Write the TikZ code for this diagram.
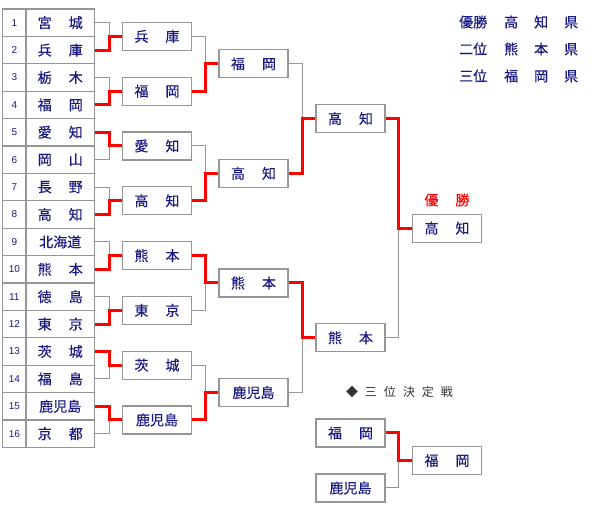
\documentclass[tikz,border=0pt]{standalone}
\usepackage{fontspec}
\setmainfont{Liberation Serif}
\newfontfamily\jpfont[FakeBold=0.3]{Noto Sans CJK JP}
\newfontfamily\jplight{Noto Sans CJK JP}
\newfontfamily\numfont{Liberation Sans}
\definecolor{navy}{RGB}{25,25,130}
\definecolor{lgray}{RGB}{150,150,150}
\definecolor{wred}{RGB}{255,0,0}
\definecolor{dgray}{RGB}{50,50,50}
\newcommand\twoch[2]{#1\hspace{17pt}#2}
\tikzset{
  cell/.style={draw=lgray, line width=1.2pt, minimum height=27.4pt, inner sep=0pt, text=navy},
  numcell/.style={cell, minimum width=23.3pt, font=\numfont\fontsize{10}{10}\selectfont},
  namecell/.style={cell, minimum width=68.5pt, font=\jpfont\fontsize{14}{14}\selectfont},
  team/.style={draw=lgray, line width=1.2pt, minimum width=69pt, minimum height=28pt, inner sep=0pt, text=navy, font=\jpfont\fontsize{14}{14}\selectfont},
  lose/.style={draw=lgray, line width=1pt},
  win/.style={draw=wred, line width=3pt},
  legend/.style={anchor=west, inner sep=0pt, text=navy, font=\jpfont\fontsize{14}{14}\selectfont},
}
\begin{document}
\begin{tikzpicture}[x=1pt,y=-1pt]
\useasboundingbox (0,0) rectangle (600,510);
% table
\foreach \i/\nm in {1/{\twoch{宮}{城}},2/{\twoch{兵}{庫}},3/{\twoch{栃}{木}},4/{\twoch{福}{岡}},
  5/{\twoch{愛}{知}},6/{\twoch{岡}{山}},7/{\twoch{長}{野}},8/{\twoch{高}{知}},
  9/{北海道},10/{\twoch{熊}{本}},11/{\twoch{徳}{島}},12/{\twoch{東}{京}},
  13/{\twoch{茨}{城}},14/{\twoch{福}{島}},15/{鹿児島},16/{\twoch{京}{都}}}{
  \pgfmathsetmacro\yy{9+(\i-0.5)*27.4}
  \node[numcell] (n\i) at (14.35,\yy) {\i};
  \node[namecell] (t\i) at (60.25,\yy) {\nm};
}
% round 1
\node[team] (a1) at (157,36.4) {\twoch{兵}{庫}};
\node[team] (a2) at (157,91.2) {\twoch{福}{岡}};
\node[team] (a3) at (157,146) {\twoch{愛}{知}};
\node[team] (a4) at (157,200.8) {\twoch{高}{知}};
\node[team] (a5) at (157,255.6) {\twoch{熊}{本}};
\node[team] (a6) at (157,310.4) {\twoch{東}{京}};
\node[team] (a7) at (157,365.2) {\twoch{茨}{城}};
\node[team] (a8) at (157,420) {鹿児島};
% round 2
\node[team] (b1) at (253.5,63.8) {\twoch{福}{岡}};
\node[team] (b2) at (253.5,173.4) {\twoch{高}{知}};
\node[team] (b3) at (253.5,283) {\twoch{熊}{本}};
\node[team] (b4) at (253.5,392.6) {鹿児島};
% round 3
\node[team] (c1) at (350.5,118.6) {\twoch{高}{知}};
\node[team] (c2) at (350.5,337.8) {\twoch{熊}{本}};
% final
\node[team] (d1) at (447,228.2) {\twoch{高}{知}};
\node[text=wred, inner sep=0pt, font=\jpfont\fontsize{14}{14}\selectfont] (champ) at (447,200) {\twoch{優}{勝}};
% third place
\node[text=dgray, inner sep=0pt, font=\jplight\fontsize{12}{12}\selectfont] (tptitle) at (399.5,392) {◆\hspace{7pt}三\hspace{7pt}位\hspace{7pt}決\hspace{7pt}定\hspace{7pt}戦};
\node[team] (e1) at (350.5,433) {\twoch{福}{岡}};
\node[team] (e2) at (350.5,488) {鹿児島};
\node[team] (e3) at (447,460.5) {\twoch{福}{岡}};
% legend
\node[legend] (l1) at (459,22) {優勝\hspace{17pt}高\hspace{16pt}知\hspace{16pt}県};
\node[legend] (l2) at (459,49) {二位\hspace{17pt}熊\hspace{16pt}本\hspace{16pt}県};
\node[legend] (l3) at (459,76) {三位\hspace{17pt}福\hspace{16pt}岡\hspace{16pt}県};
% round 1 connectors
\draw[lose] (t1.east) -- ++(14.5,0) |- (a1.west);
\draw[win]  (t2.east) -- ++(14.5,0) |- (a1.west);
\draw[lose] (t3.east) -- ++(14.5,0) |- (a2.west);
\draw[win]  (t4.east) -- ++(14.5,0) |- (a2.west);
\draw[lose] (t6.east) -- ++(14.5,0) |- (a3.west);
\draw[win]  (t5.east) -- ++(14.5,0) |- (a3.west);
\draw[lose] (t7.east) -- ++(14.5,0) |- (a4.west);
\draw[win]  (t8.east) -- ++(14.5,0) |- (a4.west);
\draw[lose] (t9.east) -- ++(14.5,0) |- (a5.west);
\draw[win]  (t10.east) -- ++(14.5,0) |- (a5.west);
\draw[lose] (t11.east) -- ++(14.5,0) |- (a6.west);
\draw[win]  (t12.east) -- ++(14.5,0) |- (a6.west);
\draw[lose] (t14.east) -- ++(14.5,0) |- (a7.west);
\draw[win]  (t13.east) -- ++(14.5,0) |- (a7.west);
\draw[lose] (t16.east) -- ++(14.5,0) |- (a8.west);
\draw[win]  (t15.east) -- ++(14.5,0) |- (a8.west);
% round 2 connectors
\draw[lose] (a1.east) -- ++(13,0) |- (b1.west);
\draw[win]  (a2.east) -- ++(13,0) |- (b1.west);
\draw[lose] (a3.east) -- ++(13,0) |- (b2.west);
\draw[win]  (a4.east) -- ++(13,0) |- (b2.west);
\draw[lose] (a6.east) -- ++(13,0) |- (b3.west);
\draw[win]  (a5.east) -- ++(13,0) |- (b3.west);
\draw[lose] (a7.east) -- ++(13,0) |- (b4.west);
\draw[win]  (a8.east) -- ++(13,0) |- (b4.west);
% round 3 connectors
\draw[lose] (b1.east) -- ++(14,0) |- (c1.west);
\draw[win]  (b2.east) -- ++(14,0) |- (c1.west);
\draw[lose] (b4.east) -- ++(14,0) |- (c2.west);
\draw[win]  (b3.east) -- ++(14,0) |- (c2.west);
% final connectors
\draw[lose] (c2.east) -- ++(13,0) |- (d1.west);
\draw[win]  (c1.east) -- ++(13,0) |- (d1.west);
% third place connectors
\draw[lose] (e2.east) -- ++(13,0) |- (e3.west);
\draw[win]  (e1.east) -- ++(13,0) |- (e3.west);
\end{tikzpicture}
\end{document}
